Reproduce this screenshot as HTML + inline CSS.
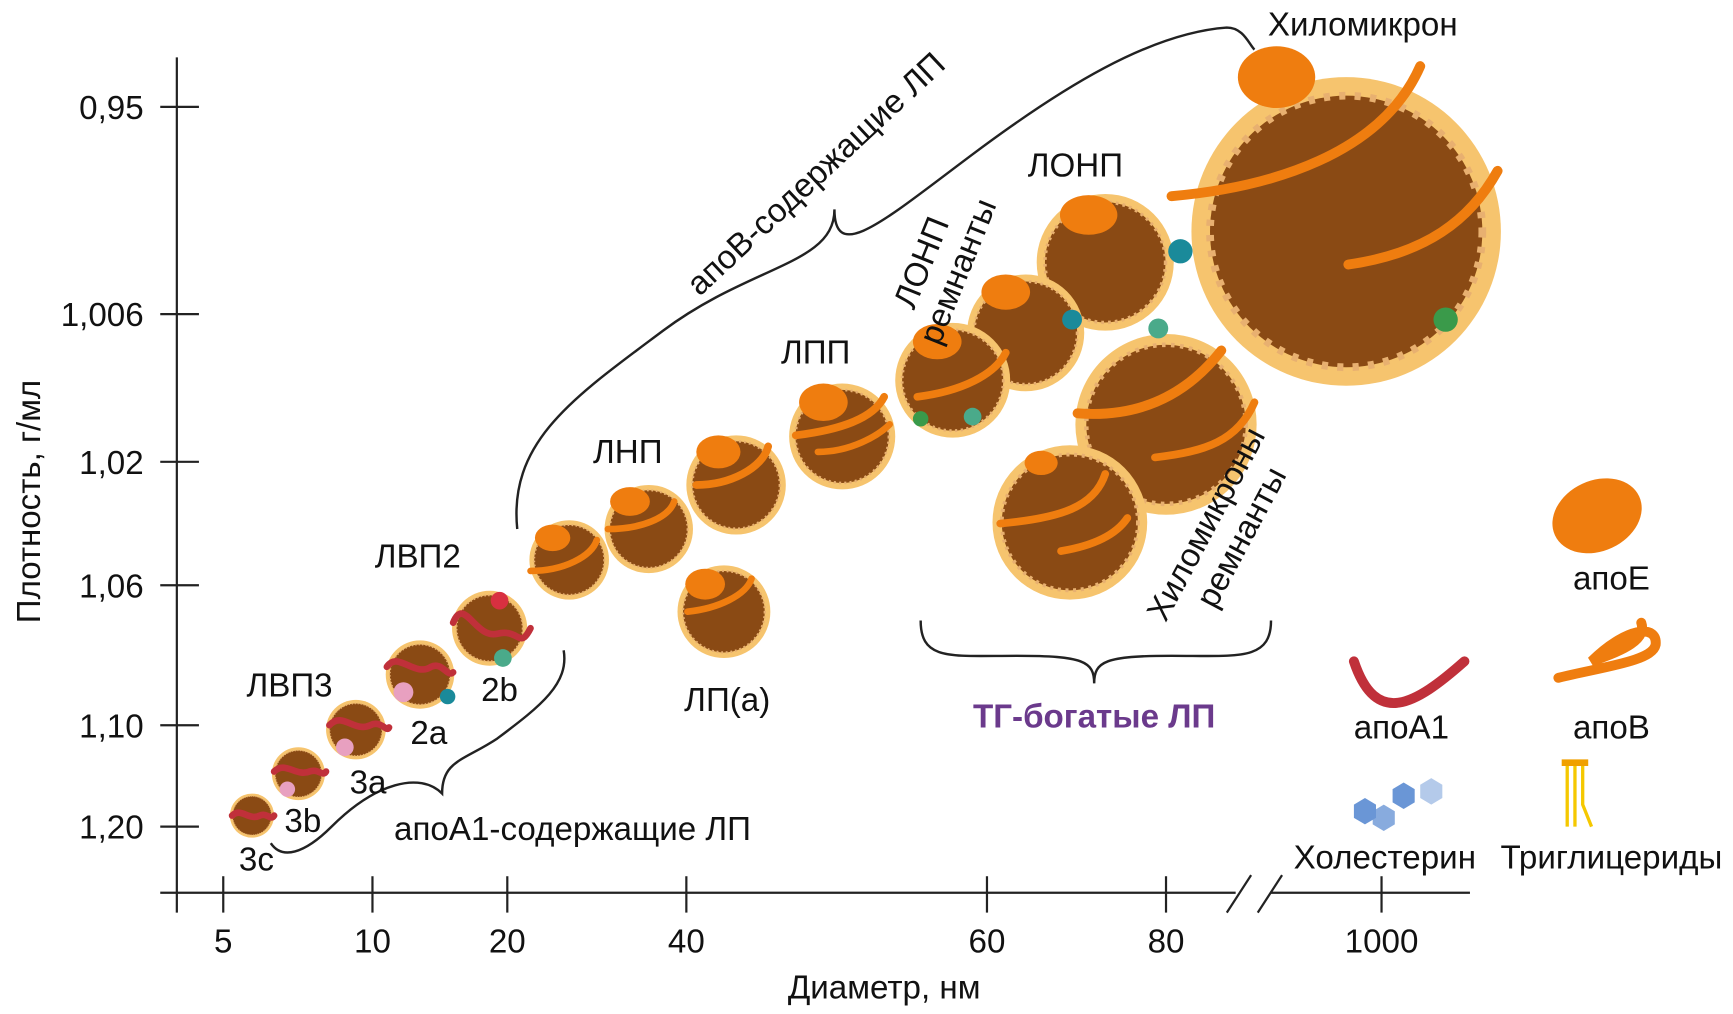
<!DOCTYPE html>
<html><head><meta charset="utf-8"><style>
html,body{margin:0;padding:0;background:#fff;}
svg{display:block}
text{font-family:"Liberation Sans Narrow","Liberation Sans",sans-serif;fill:#111;}
</style></head><body>
<svg width="1733" height="1014" viewBox="0 0 1568 920" preserveAspectRatio="none" xmlns="http://www.w3.org/2000/svg">
<defs>
<g id="p">
  <circle r="1" fill="#f6c46e"/>
  <circle r="0.88" fill="#8a4a14"/>
  <circle r="0.88" fill="none" stroke="#e8b070" stroke-width="0.05" stroke-dasharray="0.04 0.06"/>
</g>
</defs>
<!-- axes -->
<g stroke="#222" stroke-width="2" fill="none">
<line x1="160" y1="52" x2="160" y2="828"/>
<line x1="145" y1="810" x2="1118" y2="810"/>
<line x1="1150" y1="810" x2="1330" y2="810"/>
<line x1="1110" y1="828" x2="1132" y2="794"/>
<line x1="1138" y1="828" x2="1160" y2="794"/>
<g>
<line x1="145" y1="97" x2="180" y2="97"/><line x1="145" y1="285" x2="180" y2="285"/>
<line x1="145" y1="419" x2="180" y2="419"/><line x1="145" y1="531" x2="180" y2="531"/>
<line x1="145" y1="658" x2="180" y2="658"/><line x1="145" y1="750" x2="180" y2="750"/>
<line x1="202" y1="795" x2="202" y2="828"/><line x1="337" y1="795" x2="337" y2="828"/>
<line x1="459" y1="795" x2="459" y2="828"/><line x1="621" y1="795" x2="621" y2="828"/>
<line x1="893" y1="795" x2="893" y2="828"/><line x1="1055" y1="795" x2="1055" y2="828"/>
<line x1="1250" y1="795" x2="1250" y2="828"/>
</g>
<!-- brackets -->
<path d="M468,480 C460,400 520,360 600,300 C680,240 755,240 755,190 C755,240 800,200 880,140 C960,80 1040,30 1110,25 C1125,25 1130,40 1135,45" stroke-width="2.2"/>
<path d="M245,765 C255,780 275,775 300,750 C340,710 380,700 400,720 C400,690 420,690 450,670 C490,640 515,620 510,590" stroke-width="2.2"/>
<path d="M833,563 C833,600 860,595 920,595 C980,595 990,600 990,620 C990,600 1000,595 1060,595 C1120,595 1150,600 1150,563" stroke-width="2.2"/>
</g>
<!-- particles -->
<g>
<use href="#p" transform="translate(1218,210) scale(140)"/>
<use href="#p" transform="translate(1055,385) scale(82)"/>
<use href="#p" transform="translate(968,474) scale(70)"/>
<use href="#p" transform="translate(1000,238) scale(62)"/>
<use href="#p" transform="translate(928,302) scale(53)"/>
<use href="#p" transform="translate(862,345) scale(52)"/>
<use href="#p" transform="translate(762,396) scale(48)"/>
<use href="#p" transform="translate(666,440) scale(45)"/>
<use href="#p" transform="translate(655,555) scale(42)"/>
<use href="#p" transform="translate(587,480) scale(40)"/>
<use href="#p" transform="translate(515,508) scale(36)"/>
<use href="#p" transform="translate(443,570) scale(34)"/>
<use href="#p" transform="translate(380,612) scale(31)"/>
<use href="#p" transform="translate(322,662) scale(27)"/>
<use href="#p" transform="translate(270,702) scale(24)"/>
<use href="#p" transform="translate(228,740) scale(20)"/>
</g>
<!-- apoB bands -->
<g stroke="#ef7d0f" stroke-width="9" fill="none" stroke-linecap="round">
<path d="M1060,178 C1150,170 1250,140 1285,60"/>
<path d="M1220,240 C1290,230 1330,200 1355,155"/>
<path d="M975,375 C1040,380 1080,350 1105,318"/>
<path d="M1045,415 C1090,410 1120,400 1135,365" stroke-width="7"/>
<path d="M905,475 C960,470 990,460 1000,430" stroke-width="7"/>
<path d="M960,500 C990,495 1010,485 1020,470" stroke-width="7"/>
<path d="M830,360 C870,355 900,340 910,320" stroke-width="7"/>
<path d="M720,395 C760,390 790,380 800,360" stroke-width="7"/>
<path d="M740,410 C770,410 795,395 805,385" stroke-width="6"/>
<path d="M630,440 C660,440 690,425 695,405" stroke-width="7"/>
<path d="M550,480 C580,480 605,470 610,455" stroke-width="6"/>
<path d="M480,518 C510,518 535,505 540,490" stroke-width="6"/>
<path d="M622,555 C650,552 675,540 680,525" stroke-width="6"/>
<path d="M1225,600 C1245,660 1280,640 1325,600" stroke="#c0303a"/>
<path d="M1410,615 C1450,605 1495,600 1498,585 C1500,565 1470,570 1440,600 C1470,590 1490,580 1485,565" />
</g>
<!-- apoA1 on HDL -->
<g stroke="#c0303a" stroke-width="6" fill="none" stroke-linecap="round">
<path d="M410,565 C420,540 430,580 450,575 C470,570 470,590 480,570"/>
<path d="M350,605 C360,590 375,615 390,605 C400,600 405,615 410,610"/>
<path d="M298,658 C310,645 320,665 335,658 C345,653 350,665 352,660"/>
<path d="M248,700 C258,690 268,705 280,700 C288,697 292,705 295,700"/>
<path d="M210,740 C218,732 225,745 235,740 C242,737 245,745 248,740"/>
</g>
<g fill="#ef7d0f">
<ellipse cx="1155" cy="70" rx="35" ry="28"/>
<ellipse cx="985" cy="195" rx="26" ry="18"/>
<ellipse cx="910" cy="265" rx="22" ry="16"/>
<ellipse cx="848" cy="310" rx="22" ry="16"/>
<ellipse cx="745" cy="365" rx="22" ry="17"/>
<ellipse cx="650" cy="410" rx="20" ry="15"/>
<ellipse cx="570" cy="455" rx="18" ry="13"/>
<ellipse cx="500" cy="488" rx="16" ry="12"/>
<ellipse cx="638" cy="530" rx="18" ry="14"/>
<ellipse cx="942" cy="420" rx="15" ry="11"/>
<ellipse cx="1445" cy="468" rx="42" ry="32" transform="rotate(-25 1445 468)"/>
</g>
<g>
<circle cx="1068" cy="228" r="11" fill="#1a8a9a"/>
<circle cx="970" cy="290" r="9" fill="#1a8a9a"/>
<circle cx="1308" cy="290" r="11" fill="#3a9a4a"/>
<circle cx="1048" cy="298" r="9" fill="#4aaa8a"/>
<circle cx="880" cy="378" r="8" fill="#4aaa8a"/>
<circle cx="833" cy="380" r="7" fill="#3a9a4a"/>
<circle cx="452" cy="545" r="8" fill="#d83040"/>
<circle cx="455" cy="597" r="8" fill="#4aaa8a"/>
<circle cx="405" cy="632" r="7" fill="#1a8a9a"/>
<circle cx="365" cy="628" r="9" fill="#e8a0c0"/>
<circle cx="312" cy="678" r="8" fill="#e8a0c0"/>
<circle cx="260" cy="716" r="7" fill="#e8a0c0"/>
</g>
<!-- legend cholesterol & TG -->
<g fill="#6a96d6">
<polygon points="1225,730 1235,724 1245,730 1245,742 1235,748 1225,742"/>
<polygon points="1242,736 1252,730 1262,736 1262,748 1252,754 1242,748" opacity="0.8"/>
<polygon points="1260,716 1270,710 1280,716 1280,728 1270,734 1260,728"/>
<polygon points="1285,712 1295,706 1305,712 1305,724 1295,730 1285,724" opacity="0.5"/>
</g>
<g stroke="#f5c800" stroke-width="3" fill="none">
<line x1="1413" y1="692" x2="1437" y2="692" stroke="#f0a000" stroke-width="6"/>
<line x1="1418" y1="695" x2="1418" y2="750"/><line x1="1425" y1="695" x2="1425" y2="750"/>
<path d="M1432,695 L1432,730 L1440,750"/>
</g>
<g font-size="30">
<text x="130" y="108" text-anchor="end">0,95</text>
<text x="130" y="296" text-anchor="end">1,006</text>
<text x="130" y="430" text-anchor="end">1,02</text>
<text x="130" y="542" text-anchor="end">1,06</text>
<text x="130" y="669" text-anchor="end">1,10</text>
<text x="130" y="761" text-anchor="end">1,20</text>
<g text-anchor="middle">
<text x="202" y="864">5</text><text x="337" y="864">10</text><text x="459" y="864">20</text>
<text x="621" y="864">40</text><text x="893" y="864">60</text><text x="1055" y="864">80</text>
<text x="1250" y="864">1000</text>
<text x="800" y="906">Диаметр, нм</text>
<text transform="translate(36,455) rotate(-90)">Плотность, г/мл</text>
<text x="1233" y="32">Хиломикрон</text>
<text x="973" y="160">ЛОНП</text>
<text x="738" y="330">ЛПП</text>
<text x="568" y="420">ЛНП</text>
<text x="378" y="515">ЛВП2</text>
<text x="262" y="632">ЛВП3</text>
<text x="452" y="636">2b</text>
<text x="388" y="675">2a</text>
<text x="333" y="720">3a</text>
<text x="274" y="755">3b</text>
<text x="232" y="790">3c</text>
<text x="658" y="645">ЛП(а)</text>
<text x="518" y="762">апоА1-содержащие ЛП</text>
<text x="990" y="660" style="fill:#6b3a8c;font-weight:bold">ТГ-богатые ЛП</text>
<text x="1458" y="535">апоЕ</text>
<text x="1268" y="670">апоА1</text>
<text x="1458" y="670">апоВ</text>
<text x="1253" y="788">Холестерин</text>
<text x="1458" y="788">Триглицериды</text>
<text transform="translate(745,165) rotate(-43)">апоВ-содержащие ЛП</text>
<text transform="translate(843,242) rotate(-68)">ЛОНП</text>
<text transform="translate(876,250) rotate(-68)">ремнанты</text>
<text transform="translate(1100,480) rotate(-62)">Хиломикроны</text>
<text transform="translate(1132,492) rotate(-62)">ремнанты</text>
</g></g>
</svg>
</body></html>
